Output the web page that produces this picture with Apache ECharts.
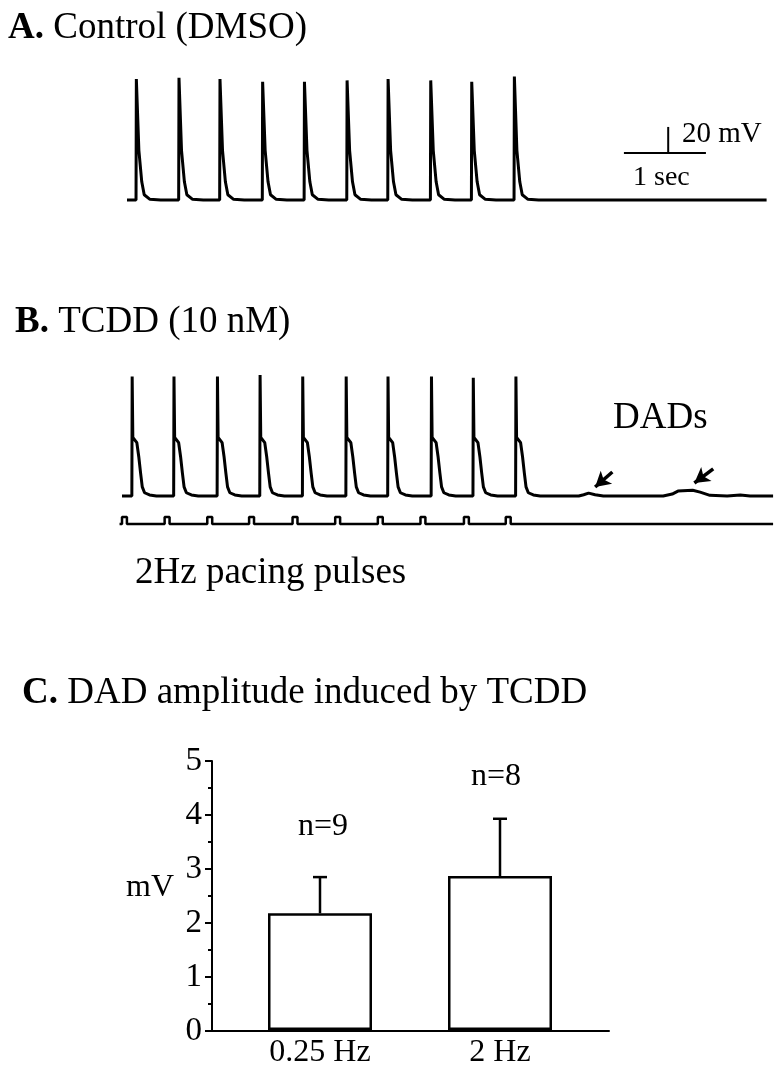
<!DOCTYPE html>
<html>
<head>
<meta charset="utf-8">
<script src="https://cdn.jsdelivr.net/npm/echarts@6/dist/echarts.min.js"></script>
<style>
  html, body { margin: 0; padding: 0; background: #fff; }
  #main { width: 784px; height: 1080px; }
</style>
</head>
<body>
<div id="main"></div>
<script>
// ---- data ----
const restMV = -80;
// A: control, spike onset times (s) and peak potentials (mV)
const spikeTimesA = [0.11, 0.63, 1.13, 1.65, 2.16, 2.68, 3.18, 3.70, 4.20, 4.72];
const spikePeaksA = [13, 14, 13, 11, 11, 12, 13, 12, 11, 15];
// repolarisation after the peak: [s after onset, mV]
const apShapeA = [[0.035, -42], [0.07, -66], [0.1, -76], [0.17, -79.5], [0.3, -80]];
const endA = 7.8;

// B: TCDD
const spikeTimesB = [0.12, 0.63, 1.16, 1.68, 2.20, 2.73, 3.24, 3.77, 4.28, 4.80];
const spikePeaksB = [12, 12, 12, 13, 12, 12, 12, 12, 11, 12];
const apShapeB = [[0.012, -35], [0.033, -34.5], [0.061, -39], [0.085, -50], [0.106, -62],
  [0.127, -73], [0.155, -77.5], [0.216, -79.2], [0.30, -80]];
// quiescent period with the two DADs
const dadTail = [[5.57, -80], [5.63, -79], [5.69, -77.8], [5.77, -79], [5.87, -80], [6.6, -80],
  [6.71, -78.5], [6.78, -76.2], [6.96, -75.6], [7.05, -77], [7.17, -79.5], [7.38, -80],
  [7.54, -79.3], [7.66, -80], [7.94, -80]];

// pacing pulses (s)
const pulseTimes = [0.0, 0.52, 1.04, 1.55, 2.08, 2.60, 3.12, 3.64, 4.17, 4.68];
const pulseWidth = 0.06;

// C: DAD amplitude
const rates = ['0.25 Hz', '2 Hz'];
const dadMean = [2.18, 2.87];
const dadSem = [0.67, 1.06];
const nCells = ['n=9', 'n=8'];

const serif = "'Liberation Serif', 'Times New Roman', serif";

function buildTrace(times, peaks, shape, tail) {
  const pts = [[0, restMV]];
  times.forEach(function (t, i) {
    pts.push([t, restMV]);
    pts.push([t + 0.004, peaks[i]]);
    shape.forEach(function (p) { pts.push([t + p[0], p[1]]); });
  });
  return pts.concat(tail);
}

const traceA = buildTrace(spikeTimesA, spikePeaksA, apShapeA, [[endA, restMV]]);
const traceB = buildTrace(spikeTimesB, spikePeaksB, apShapeB, dadTail);

const pulseLine = [[-0.03, 0]];
pulseTimes.forEach(function (p) {
  pulseLine.push([p, 0], [p, 1], [p + pulseWidth, 1], [p + pulseWidth, 0]);
});
pulseLine.push([7.94, 0]);

const errData = dadMean.map(function (m, i) { return [i, m, m + dadSem[i]]; });

const chart = echarts.init(document.getElementById('main'));

const hiddenAxis = { show: false };
const traceLine = { color: '#000', width: 3 };

const option = {
  backgroundColor: '#fff',
  animation: false,
  grid: [
    { left: 127, top: 70, width: 639.6, height: 143, outerBoundsMode: 'none' },
    { left: 113.8, top: 366, width: 664.2, height: 143, outerBoundsMode: 'none' },
    { left: 113.8, top: 517, width: 664.2, height: 7, outerBoundsMode: 'none' },
    { left: 212, top: 761, width: 397, height: 270, outerBoundsMode: 'none' },
    { left: 230, top: 761, width: 360, height: 270, outerBoundsMode: 'none' }
  ],
  xAxis: [
    Object.assign({ gridIndex: 0, type: 'value', min: 0, max: endA }, hiddenAxis),
    Object.assign({ gridIndex: 1, type: 'value', min: -0.1, max: 8.0 }, hiddenAxis),
    Object.assign({ gridIndex: 2, type: 'value', min: -0.1, max: 8.0 }, hiddenAxis),
    {
      gridIndex: 3, type: 'value', min: 0, max: 1,
      axisLine: { show: true, lineStyle: { color: '#000', width: 2 } },
      axisTick: { show: false }, axisLabel: { show: false }, splitLine: { show: false }
    },
    {
      gridIndex: 4, type: 'category', data: rates,
      axisLine: { show: false }, axisTick: { show: false },
      axisLabel: { color: '#000', fontSize: 32, fontFamily: serif, margin: 6 }
    }
  ],
  yAxis: [
    Object.assign({ gridIndex: 0, type: 'value', min: -90, max: 20 }, hiddenAxis),
    Object.assign({ gridIndex: 1, type: 'value', min: -90, max: 20 }, hiddenAxis),
    Object.assign({ gridIndex: 2, type: 'value', min: 0, max: 1 }, hiddenAxis),
    {
      gridIndex: 3, type: 'value', min: 0, max: 5, interval: 1,
      axisLine: { show: true, lineStyle: { color: '#000', width: 2 } },
      axisTick: { show: true, length: 7, lineStyle: { color: '#000', width: 2 } },
      minorTick: { show: true, splitNumber: 2, length: 4, lineStyle: { color: '#000', width: 2 } },
      axisLabel: { color: '#000', fontSize: 33, fontFamily: serif, margin: 10 },
      splitLine: { show: false }
    },
    Object.assign({ gridIndex: 4, type: 'value', min: 0, max: 5 }, hiddenAxis)
  ],
  series: [
    {
      type: 'line', xAxisIndex: 0, yAxisIndex: 0, data: traceA,
      symbol: 'none', clip: false, lineStyle: traceLine
    },
    // scale bars 1 sec / 20 mV
    {
      type: 'line', xAxisIndex: 0, yAxisIndex: 0, data: [[6.06, -43.8], [7.06, -43.8]],
      symbol: 'none', clip: false, lineStyle: { color: '#000', width: 2 }
    },
    {
      type: 'line', xAxisIndex: 0, yAxisIndex: 0, data: [[6.6, -43.8], [6.6, -23.8]],
      symbol: 'none', clip: false, lineStyle: { color: '#000', width: 2 }
    },
    {
      type: 'line', xAxisIndex: 1, yAxisIndex: 1, data: traceB,
      symbol: 'none', clip: false, lineStyle: traceLine,
      markLine: {
        silent: true,
        symbol: ['none', 'arrow'],
        symbolSize: [13, 15],
        label: { show: false },
        lineStyle: { color: '#000', width: 3.5, type: 'solid' },
        data: [
          [{ coord: [5.98, -61.5] }, { coord: [5.77, -73.1] }],
          [{ coord: [7.21, -59.2] }, { coord: [6.98, -70] }]
        ]
      }
    },
    {
      type: 'line', xAxisIndex: 2, yAxisIndex: 2, data: pulseLine,
      symbol: 'none', clip: false, lineStyle: { color: '#000', width: 2.5 }
    },
    {
      type: 'bar', xAxisIndex: 4, yAxisIndex: 4, data: dadMean, barWidth: 104,
      itemStyle: { color: '#fff', borderColor: '#000', borderWidth: 2.5 }
    },
    {
      type: 'custom', xAxisIndex: 4, yAxisIndex: 4, data: errData, z: 3,
      renderItem: function (params, api) {
        const lo = api.coord([api.value(0), api.value(1)]);
        const hi = api.coord([api.value(0), api.value(2)]);
        const base = api.coord([api.value(0), 0]);
        const st = { stroke: '#000', lineWidth: 2.5 };
        return {
          type: 'group',
          children: [
            { type: 'line', shape: { x1: lo[0], y1: lo[1], x2: hi[0], y2: hi[1] }, style: st },
            { type: 'line', shape: { x1: hi[0] - 7, y1: hi[1], x2: hi[0] + 7, y2: hi[1] }, style: st },
            // heavy bottom edge of the bar
            { type: 'line', shape: { x1: base[0] - 51, y1: base[1] - 2, x2: base[0] + 51, y2: base[1] - 2 },
              style: { stroke: '#000', lineWidth: 3 } }
          ]
        };
      }
    }
  ],
  graphic: [
    {
      type: 'text', left: 8, top: 10,
      style: {
        text: '{b|A.} Control (DMSO)', font: '37px ' + serif, fill: '#000',
        rich: { b: { fontWeight: 'bold', fontSize: 37, fontFamily: serif } }
      }
    },
    {
      type: 'text', left: 15, top: 304,
      style: {
        text: '{b|B.} TCDD (10 nM)', font: '37px ' + serif, fill: '#000',
        rich: { b: { fontWeight: 'bold', fontSize: 37, fontFamily: serif } }
      }
    },
    {
      type: 'text', left: 22, top: 675,
      style: {
        text: '{b|C.} DAD amplitude induced by TCDD', font: '37px ' + serif, fill: '#000',
        rich: { b: { fontWeight: 'bold', fontSize: 37, fontFamily: serif } }
      }
    },
    { type: 'text', x: 682, y: 134, style: { text: '20 mV', font: '29px ' + serif, fill: '#000', verticalAlign: 'middle' } },
    { type: 'text', x: 633, y: 178, style: { text: '1 sec', font: '28px ' + serif, fill: '#000', verticalAlign: 'middle' } },
    { type: 'text', x: 613, y: 418, style: { text: 'DADs', font: '37px ' + serif, fill: '#000', verticalAlign: 'middle' } },
    { type: 'text', x: 135, y: 573, style: { text: '2Hz pacing pulses', font: '37px ' + serif, fill: '#000', verticalAlign: 'middle' } },
    { type: 'text', x: 150, y: 888, style: { text: 'mV', font: '32px ' + serif, fill: '#000', align: 'center', verticalAlign: 'middle' } },
    { type: 'text', x: 323, y: 827, style: { text: nCells[0], font: '32px ' + serif, fill: '#000', align: 'center', verticalAlign: 'middle' } },
    { type: 'text', x: 496, y: 777, style: { text: nCells[1], font: '32px ' + serif, fill: '#000', align: 'center', verticalAlign: 'middle' } }
  ]
};

chart.setOption(option);
</script>
</body>
</html>
